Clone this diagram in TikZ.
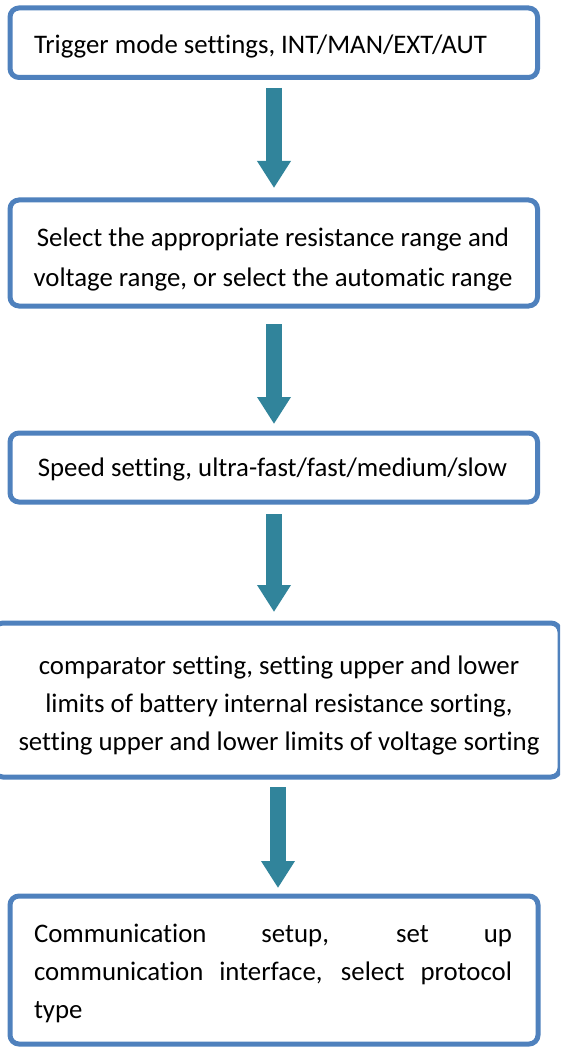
\documentclass[tikz,border=0pt]{standalone}
\usepackage{fontspec}
\setmainfont{Carlito}[Ligatures={NoCommon}]
\usetikzlibrary{arrows.meta,calc}
\definecolor{boxblue}{HTML}{4F81BD}
\definecolor{arrteal}{HTML}{31849B}
\begin{document}
\begin{tikzpicture}[x=1pt,y=-1pt,
  box/.style={draw=boxblue,line width=5pt,rounded corners=9pt,fill=white,inner sep=0pt,outer sep=0pt},
  txt/.style={font=\fontsize{26.8}{38}\selectfont,inner sep=0pt,outer sep=0pt},
  bigarrow/.style={draw=arrteal,line width=16.5pt,-{Triangle[width=32pt,length=27pt]}},
]
\useasboundingbox (0,0) rectangle (560,1048);

\node[box,minimum width=527.5pt,minimum height=69.5pt] (b1) at (273.75,42.75) {};
\node[box,minimum width=527.5pt,minimum height=106pt] (b2) at (273.75,253) {};
\node[box,minimum width=527.5pt,minimum height=69pt] (b3) at (273.75,467.5) {};
\begin{scope}
\clip (0,0) rectangle (560,1048);
\node[box,minimum width=566pt,minimum height=154pt] (b4) at (277,700) {};
\end{scope}
\node[box,minimum width=528pt,minimum height=148pt] (b5) at (274,970) {};

\node[txt,anchor=west] (t1) at (34,46) {\strut Trigger mode settings, INT/MAN/EXT/AUT\strut};
\node[txt,font=\fontsize{26.8}{40}\selectfont,align=center] (t2) at (273,258.4) {\strut Select the appropriate resistance range and\\voltage range, or select the automatic range\strut};
\node[txt] (t3) at (272.5,469) {\strut Speed setting, ultra-fast/fast/medium/slow\strut};
\node[txt,align=center] (t4) at (279,704.4) {\strut comparator setting, setting upper and lower\\limits of battery internal resistance sorting,\\setting upper and lower limits of voltage sorting\strut};
\node[txt,text width=478pt,align=justify] (t5) at (273,972.4) {\strut Communication setup, set up\linebreak communication interface, select protocol\linebreak type\strut};

\coordinate (ax) at (274,0);
\coordinate (ax4) at (278,0);
\draw[bigarrow] ($(b1.south -| ax)+(0,10.5)$) -- ($(b2.north -| ax)+(0,-12)$);
\draw[bigarrow] ($(b2.south -| ax)+(0,18)$) -- ($(b3.north -| ax)+(0,-9)$);
\draw[bigarrow] ($(b3.south -| ax)+(0,12)$) -- ($(b4.north -| ax)+(0,-11)$);
\draw[bigarrow] ($(b4.south -| ax4)+(0,10)$) -- ($(b5.north -| ax4)+(0,-8)$);
\end{tikzpicture}
\end{document}
